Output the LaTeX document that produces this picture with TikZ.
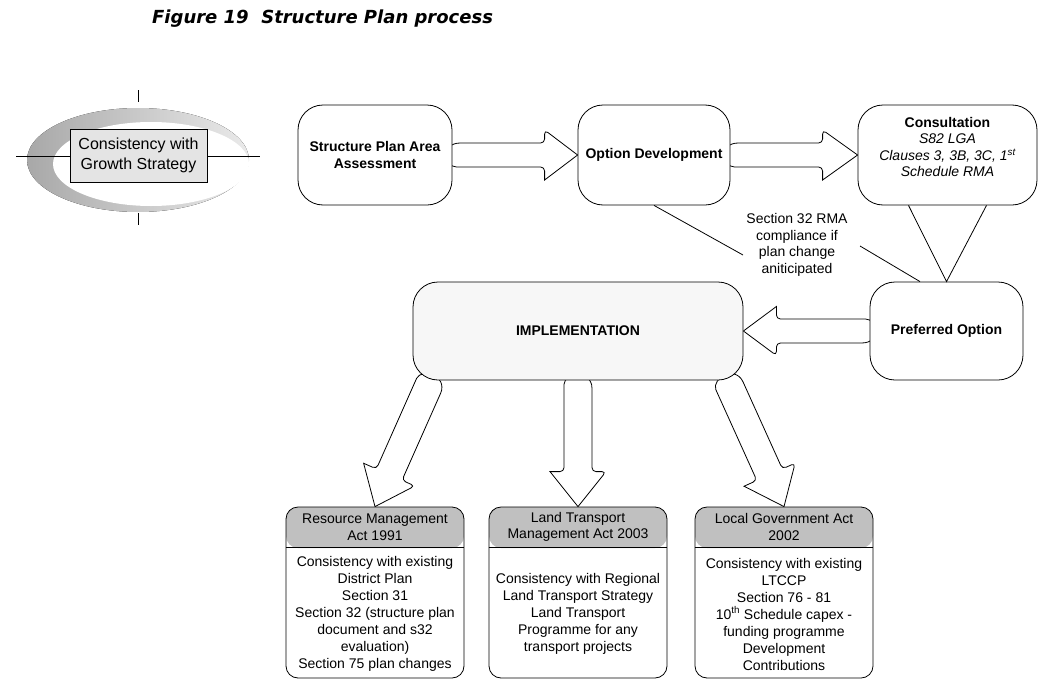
\documentclass[tikz,border=0pt]{standalone}
\usepackage{fontspec}
\setmainfont{Liberation Sans}
\newfontfamily\titlefont{DejaVu Sans}
\usetikzlibrary{calc}
\pgfdeclarelayer{bg}
\pgfsetlayers{bg,main}
\definecolor{hdr}{HTML}{C0C0C0}
\definecolor{implfill}{HTML}{F7F7F7}
\definecolor{growfill}{HTML}{E4E4E4}
\definecolor{ellL}{HTML}{A8A8A8}
\definecolor{ellR}{HTML}{EAEAEA}
\newcommand\blockarr[5]{%
  \path let \p1=(#1), \p2=(#2) in \pgfextra{%
    \pgfmathsetmacro\baang{atan2(\y2-\y1,\x2-\x1)}%
    \pgfmathsetmacro\balen{veclen(\x2-\x1,\y2-\y1)}%
    \xdef\baang{\baang}\xdef\balen{\balen}};
  \begin{scope}[shift={(#1)}, rotate=\baang, x=1pt, y=1pt]
    \pgfmathsetmacro\babase{\balen-#5}
    \draw[arrowline] (8,#3) [rounded corners=4pt] -- (\babase,#3) -- (\babase,#4) [sharp corners] -- (\balen,0) -- (\babase,-#4) [rounded corners=4pt] -- (\babase,-#3) -- (8,-#3) [sharp corners] .. controls (-2,-#3) and (-6,-6) .. (-6,0) .. controls (-6,6) and (-2,#3) .. (8,#3) -- cycle;
  \end{scope}}
\tikzset{
  conn/.style={draw, line width=0.8pt},
  arrowline/.style={draw, fill=white, line width=0.8pt, line join=miter},
  rbox/.style={draw, rounded corners=25pt, fill=white, line width=0.8pt, inner sep=0pt, align=center},
  txt/.style={align=center, inner sep=0pt, font=\fontsize{14}{16.5}\selectfont},
  btxt/.style={align=center, inner sep=0pt, font=\fontsize{14}{16.5}\selectfont\bfseries},
  bodytxt/.style={align=center, inner sep=0pt, font=\fontsize{14}{17}\selectfont},
  actbox/.style={draw, rounded corners=12pt, fill=white, line width=0.8pt, inner sep=0pt,
    minimum width=178pt, minimum height=171pt,
    path picture={\fill[hdr] (path picture bounding box.north west) rectangle ([yshift=-41pt]path picture bounding box.north east);}},
}
\begin{document}
\begin{tikzpicture}[x=1pt, y=-1pt]
\useasboundingbox (0,0) rectangle (1041,680);
% title
\node[anchor=base west, inner sep=0pt, font=\titlefont\fontsize{18}{22}\bfseries\itshape\selectfont] (title) at (152,23.5) {Figure 19\ \ Structure Plan process};
% left emblem
\fill[left color=ellL, right color=ellR] (138,160) ellipse [x radius=111pt, y radius=52pt];
\fill[white] (151,164) ellipse [x radius=98pt, y radius=42pt];
\draw[conn] (16,156) -- (260,156);
\draw[conn] (138.5,90) -- (138.5,102);
\draw[conn] (138.5,213) -- (138.5,225);
\node[draw, fill=growfill, line width=0.8pt, minimum width=137pt, minimum height=53pt, inner sep=0pt, align=center, font=\fontsize{16}{20}\selectfont] (growth) at (138.5,155.5) {Consistency with\\Growth Strategy};
% top row
\node[rbox, btxt, minimum width=154pt, minimum height=100pt, draw, rounded corners=25pt, fill=white, line width=0.8pt] (spa) at (375,155) {Structure Plan Area\\Assessment};
\node[rbox, btxt, minimum width=152pt, minimum height=100pt, draw, rounded corners=25pt, fill=white, line width=0.8pt] (opt) at (654,155) {Option Development};
\node[rbox, minimum width=179pt, minimum height=100pt] (cons) at (947.5,155) {};
\node[txt] (const) at (947.5,147) {\textbf{Consultation}\\\textit{S82 LGA}\\\textit{Clauses 3, 3B, 3C, 1\textsuperscript{st}}\\\textit{Schedule RMA}};
% middle row
\node[rbox, btxt, minimum width=330pt, minimum height=98pt, draw, rounded corners=25pt, fill=implfill, line width=0.8pt] (impl) at (578,331) {IMPLEMENTATION};
\node[rbox, btxt, minimum width=153pt, minimum height=98pt, draw, rounded corners=25pt, fill=white, line width=0.8pt] (pref) at (946.5,331) {Preferred Option};
% label and lines
\node[txt] (lbl) at (797,245) {Section 32 RMA\\compliance if\\plan change\\aniticipated};
\coordinate (lblA) at (743,255);
\coordinate (lblB) at (860,246);
\draw[conn] (opt.south) -- (lblA);
\draw[conn] (lblB) -- ([xshift=-26.5pt]pref.north);
\draw[conn] ([xshift=-39pt]cons.south) -- (pref.north) -- ([xshift=39pt]cons.south);
% bottom boxes
\node[actbox] (rma) at (375,592.5) {};
\node[actbox] (ltma) at (578,592.5) {};
\node[actbox] (lg) at (784,592.5) {};
\foreach \b in {rma,ltma,lg}{
  \draw[conn] ([yshift=-41pt]\b.north west) -- ([yshift=-41pt]\b.north east);
}
\node[txt] (rmah) at (375,527) {Resource Management\\Act 1991};
\node[txt] (ltmah) at (578,527) {Land Transport\\Management Act 2003};
\node[txt] (lgh) at (784,527) {Local Government Act\\2002};
\node[bodytxt] (rmab) at (375,614) {Consistency with existing\\District Plan\\Section 31\\Section 32 (structure plan\\document and s32\\evaluation)\\Section 75 plan changes};
\node[bodytxt] (ltmab) at (578,614) {Consistency with Regional\\Land Transport Strategy\\Land Transport\\Programme for any\\transport projects};
\node[bodytxt] (lgb) at (784,614) {Consistency with existing\\LTCCP\\Section 76 - 81\\10\textsuperscript{th} Schedule capex -\\funding programme\\Development\\Contributions};
% tails of down arrows
\coordinate (t1) at ([xshift=-147pt]impl.south);
\coordinate (t2) at (impl.south);
\coordinate (t3) at ([xshift=149pt]impl.south);
% block arrows
\begin{pgfonlayer}{bg}
\blockarr{spa.east}{opt.west}{12}{25}{33}
\blockarr{opt.east}{cons.west}{12}{25}{35}
\blockarr{pref.west}{impl.east}{12}{24.5}{33}
\blockarr{t1}{rma.north}{14}{28}{35}
\blockarr{t2}{ltma.north}{14}{28}{35}
\blockarr{t3}{lg.north}{14}{28}{35}
\end{pgfonlayer}
\end{tikzpicture}
\end{document}
